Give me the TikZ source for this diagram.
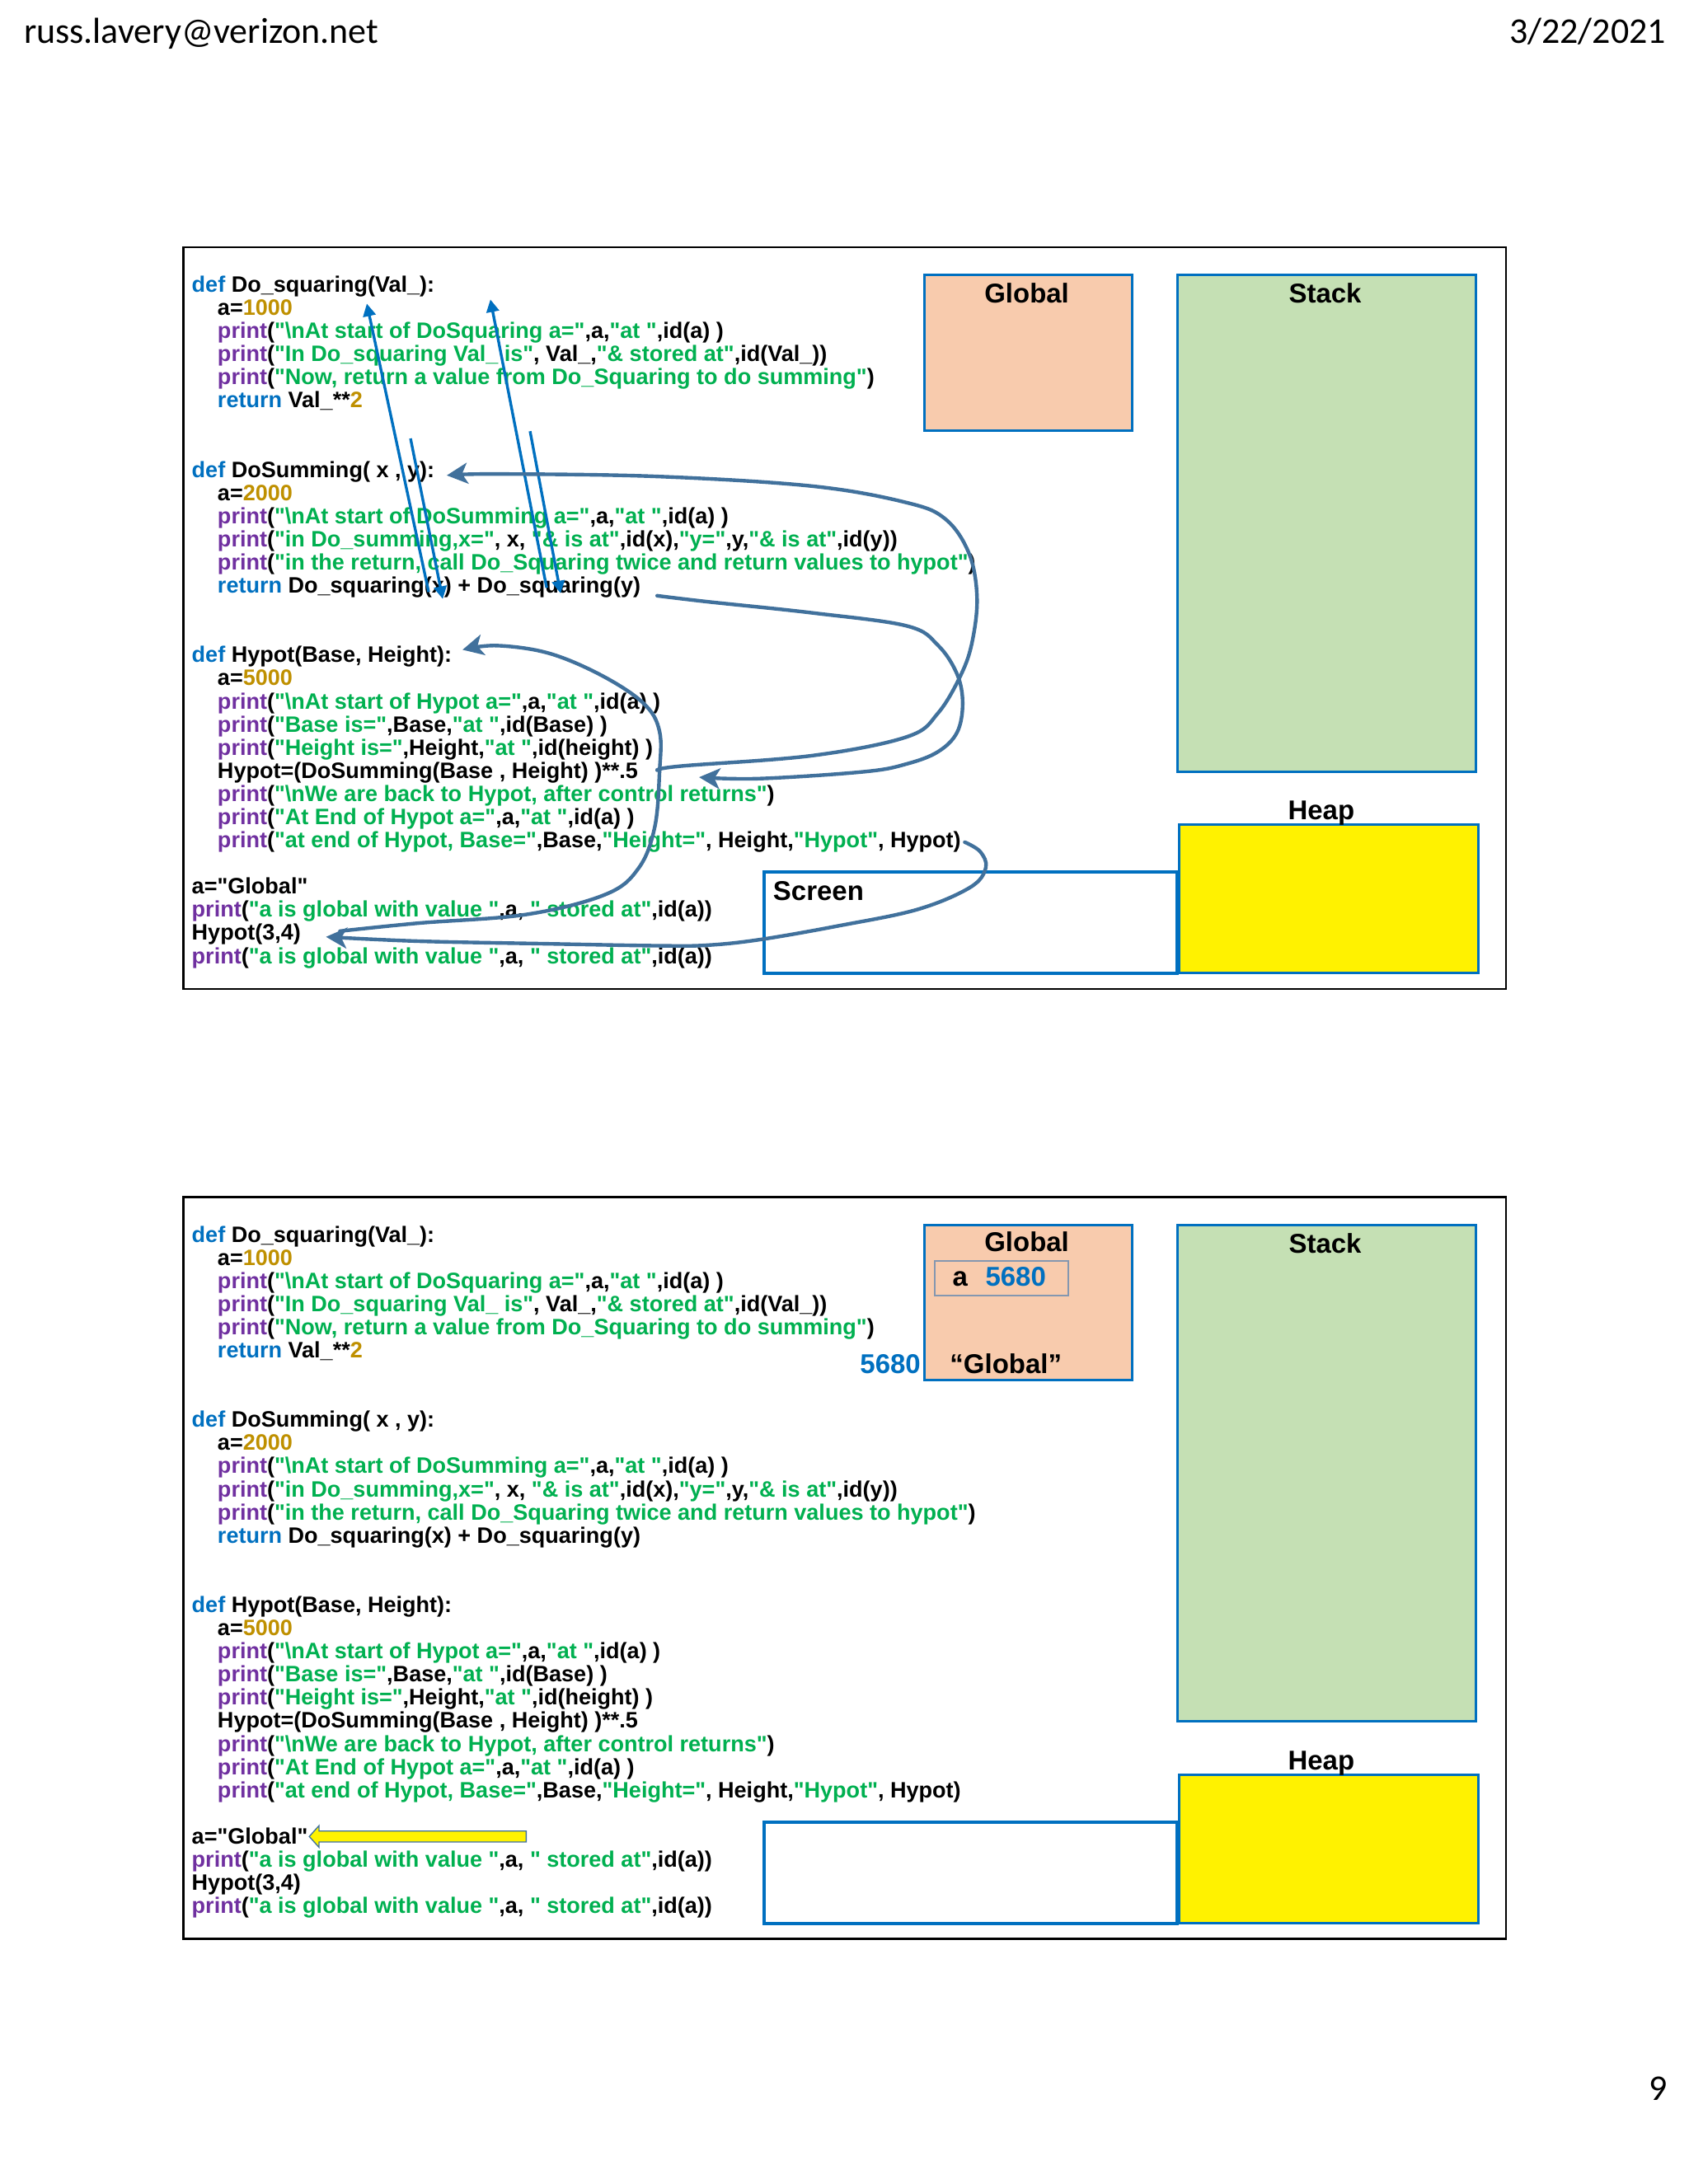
\documentclass[tikz,border=0pt]{standalone}
\usepackage{fontspec}
\setmainfont{Liberation Sans}[Ligatures=TeXOff]
\newfontfamily\hdrfont{Carlito}
\usetikzlibrary{arrows.meta, positioning, calc}

\definecolor{kwblue}{RGB}{0,112,192}
\definecolor{prpurple}{RGB}{112,48,160}
\definecolor{strgreen}{RGB}{0,176,80}
\definecolor{numgold}{RGB}{191,144,0}
\definecolor{globfill}{RGB}{248,203,173}
\definecolor{stackfill}{RGB}{197,224,180}
\definecolor{flowblue}{RGB}{65,113,156}
\definecolor{cellgray}{RGB}{132,151,176}

% python colouring
\newcommand{\kw}[1]{\textcolor{kwblue}{#1}}
\newcommand{\pyprint}{\textcolor{prpurple}{print}}
\newcommand{\pystr}[1]{\textcolor{strgreen}{#1}}
\newcommand{\pynum}[1]{\textcolor{numgold}{#1}}
\newcommand{\pyind}{\hspace*{18.5pt}}

% the program shown in both slides
\newcommand{\pylisting}{%
\kw{def} Do\_squaring(Val\_):\\
\pyind a=\pynum{1000}\\
\pyind \pyprint(\pystr{"\textbackslash nAt start of DoSquaring a="},a,\pystr{"at "},id(a) )\\
\pyind \pyprint(\pystr{"In Do\_squaring Val\_ is"}, Val\_,\pystr{"\& stored at"},id(Val\_))\\
\pyind \pyprint(\pystr{"Now, return a value from Do\_Squaring to do summing"})\\
\pyind \kw{return} Val\_**\pynum{2}\\[33.24pt]
\kw{def} DoSumming( x , y):\\
\pyind a=\pynum{2000}\\
\pyind \pyprint(\pystr{"\textbackslash nAt start of DoSumming a="},a,\pystr{"at "},id(a) )\\
\pyind \pyprint(\pystr{"in Do\_summing,x="}, x, \pystr{"\& is at"},id(x),\pystr{"y="},y,\pystr{"\& is at"},id(y))\\
\pyind \pyprint(\pystr{"in the return, call Do\_Squaring twice and return values to hypot"})\\
\pyind \kw{return} Do\_squaring(x) + Do\_squaring(y)\\[33.24pt]
\kw{def} Hypot(Base, Height):\\
\pyind a=\pynum{5000}\\
\pyind \pyprint(\pystr{"\textbackslash nAt start of Hypot a="},a,\pystr{"at "},id(a) )\\
\pyind \pyprint(\pystr{"Base is="},Base,\pystr{"at "},id(Base) )\\
\pyind \pyprint(\pystr{"Height is="},Height,\pystr{"at "},id(height) )\\
\pyind Hypot=(DoSumming(Base , Height) )**.5\\
\pyind \pyprint(\pystr{"\textbackslash nWe are back to Hypot, after control returns"})\\
\pyind \pyprint(\pystr{"At End of Hypot a="},a,\pystr{"at "},id(a) )\\
\pyind \pyprint(\pystr{"at end of Hypot, Base="},Base,\pystr{"Height="}, Height,\pystr{"Hypot"}, Hypot)\\[16.62pt]
a="Global"\\
\pyprint(\pystr{"a is global with value "},a, \pystr{" stored at"},id(a))\\
Hypot(3,4)\\
\pyprint(\pystr{"a is global with value "},a, \pystr{" stored at"},id(a))}

\begin{document}
\begin{tikzpicture}[x=1pt,y=-1pt,
  slide/.style={draw=black, line width=1.5pt, anchor=north west, inner sep=0pt, minimum width=949.2pt, minimum height=532.5pt},
  membox/.style={draw=kwblue, line width=1.8pt, anchor=north west, inner sep=0pt},
  title/.style={font=\fontsize{19.5}{22}\selectfont\bfseries, anchor=base, inner sep=0pt},
  code/.style={anchor=north west, inner sep=0pt, align=left, font=\fontsize{16}{16.62}\selectfont\bfseries},
  hdr/.style={font=\hdrfont\fontsize{26}{30}\selectfont, inner sep=0pt},
  callarrow/.style={draw=kwblue, line width=2pt, -{Triangle[length=9pt,width=9pt]}},
  flowarrow/.style={draw=flowblue, line width=2.6pt, line cap=round, -{Stealth[length=15pt,width=15pt,inset=4pt]}},
]
\fill[white] (0,0) rectangle (1212,1568);
\useasboundingbox (0,0) rectangle (1212,1568);

% page header and number
\node[hdr, anchor=base west] (email) at (17,31) {russ.lavery@verizon.net};
\node[hdr, anchor=base east] (date) at (1196,31) {3/22/2021};
\node[hdr, anchor=base] (pageno) at (1190,1508) {9};

% ---- first slide
\node[slide] (slide1) at (131,176.8) {};
\node[membox, fill=globfill, minimum width=148.9pt, minimum height=111.5pt] (global1) at (662.7,196.6) {};
\node[membox, fill=stackfill, minimum width=214.5pt, minimum height=356.4pt] (stack1) at (844.2,196.6) {};
\node[membox, line width=2.4pt, minimum width=296.4pt, minimum height=72.9pt] (screen1) at (547.2,624.8) {};
\node[membox, fill=yellow, minimum width=214.5pt, minimum height=106.6pt] (heap1) at (845.6,591.1) {};
\node[title] (globaltitle1) at (737,217.5) {Global};
\node[title] (stacktitle1) at (951.2,217.5) {Stack};
\node[title] (heaptitle1) at (948.4,588.4) {Heap};
\node[title, anchor=base west] (screentitle1) at (554.8,646.5) {Screen};
\node[code] (code1) at (137.5,197.9) {\strut\pylisting};

% ends of the calls and returns
\coordinate (sqxcall) at (307.7,425);
\coordinate (sqdefa) at (263.3,218);
\coordinate (sqxfrom) at (294.7,314.8);
\coordinate (sqxret) at (317.8,430);
\coordinate (sqycall) at (392.4,422);
\coordinate (sqdefb) at (352,215);
\coordinate (sqyfrom) at (380.5,309.6);
\coordinate (sqyret) at (402.4,426);
\coordinate (sumcall) at (471.7,553);
\coordinate (sumdef) at (320.7,341.3);
\coordinate (sumret) at (471.7,427.7);
\coordinate (sumback) at (501.8,558);
\coordinate (hypcall) at (244,668.5);
\coordinate (hypdef) at (332,466.5);
\coordinate (hypret) at (692.5,604.6);
\coordinate (hypback) at (234,672.6);

\draw[callarrow] (sqxcall) -- (sqdefa);
\draw[callarrow] (sqxfrom) -- (sqxret);
\draw[callarrow] (sqycall) -- (sqdefb);
\draw[callarrow] (sqyfrom) -- (sqyret);

\draw[flowarrow] plot[smooth, tension=0.6] coordinates {(sumcall) (488.8,550) (582.9,542.5) (651,529) (673.3,512) (690,484) (698,460) (701.3,428.5) (695.6,397.4) (678.8,372.8) (651,360.9) (582.9,349) (469.9,342) (356.6,340.3) (sumdef)};
\draw[flowarrow] plot[smooth, tension=0.6] coordinates {(sumret) (507.8,432) (583,440) (651,449.4) (673.3,463.3) (687,484) (691,505) (687,525.8) (673.3,539.7) (651,548.4) (620.8,554) (545,559) (sumback)};
\draw[flowarrow] plot[smooth, tension=0.6] coordinates {(hypcall) (300,662.8) (378,656.5) (435,642) (458.6,623) (470,593.7) (473.4,554.5) (473.4,525) (462,505) (432,485) (394,469) (356.6,463.5) (hypdef)};
\draw[flowarrow] plot[smooth, tension=0.6] coordinates {(hypret) (703.6,611.4) (707.6,623) (696.5,637) (658.7,652.9) (601.9,664.7) (545.3,674.6) (507.6,678.6) (473.4,679) (394,677.6) (300,675.7) (hypback)};

% ---- second slide
\node[slide] (slide2) at (131,858.8) {};
\node[membox, fill=globfill, minimum width=148.9pt, minimum height=111.5pt] (global2) at (662.7,878.6) {};
\node[membox, fill=stackfill, minimum width=214.5pt, minimum height=356.4pt] (stack2) at (844.2,878.6) {};
\node[membox, line width=2.4pt, minimum width=296.4pt, minimum height=72.9pt] (screen2) at (547.2,1306.8) {};
\node[membox, fill=yellow, minimum width=214.5pt, minimum height=106.6pt] (heap2) at (845.6,1273.1) {};
\node[title] (globaltitle2) at (737,898.6) {Global};
\node[title] (stacktitle2) at (951.2,899.5) {Stack};
\node[title] (heaptitle2) at (948.4,1270.4) {Heap};
\node[code] (code2) at (137.5,879.9) {\strut\pylisting};

% the variable a in global memory
\node[draw=cellgray, line width=1.2pt, anchor=north west, inner sep=0pt, minimum width=95.7pt, minimum height=25.3pt] (cella) at (670.3,904.4) {};
\node[title, anchor=base west] (aname) at (683.5,923.3) {a};
\node[title, anchor=base west, text=kwblue] (aval) at (707.2,923.3) {5680};
\node[title] (gstr) at (722,986) {“Global”};
\node[title, anchor=base east, text=kwblue] (gaddr) at (661,986.3) {5680};

% pointer to a="Global"
\coordinate (ytip) at (222,1318.5);
\draw[draw=flowblue, fill=yellow, line width=0.8pt] (ytip) -- ++(7,-7.8) -- ++(0,3.9) -- (377.7,1314.6) -- (377.7,1322.4) -- (229,1322.4) -- (229,1326.3) -- cycle;
\end{tikzpicture}
\end{document}
